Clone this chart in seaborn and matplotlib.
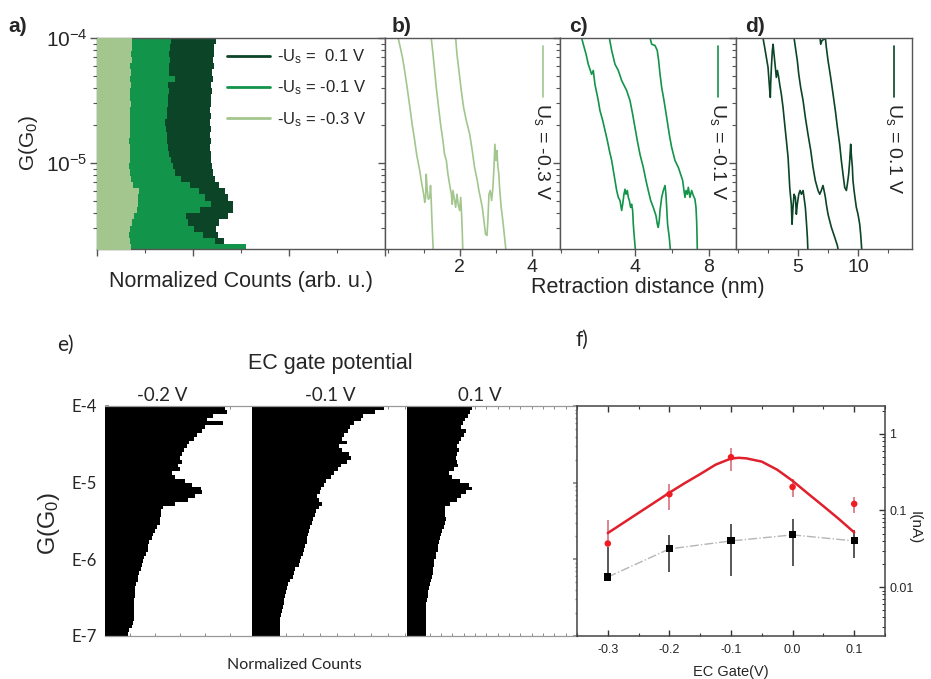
import numpy as np
import matplotlib
matplotlib.use("Agg")
import matplotlib.pyplot as plt
from matplotlib.lines import Line2D
from matplotlib.ticker import LogLocator, NullFormatter, MultipleLocator, FixedLocator
import seaborn as sns

# ---------------- panel a: conductance histograms (bins of 0.05 decade, log10 G from -4.0 down to -5.7)
hist_a_top, hist_a_bottom = -4.0, -5.7
counts_m03 = [0.73, 0.72, 0.70, 0.72, 0.69, 0.71, 0.69, 0.70, 0.69, 0.68, 0.70, 0.69, 0.68, 0.69, 0.68, 0.69, 0.67,
              0.69, 0.68, 0.69, 0.67, 0.69, 0.70, 0.76, 0.87, 0.85, 0.85, 0.84, 0.78, 0.73, 0.68, 0.66, 0.69, 0.71]
counts_m01 = [1.55, 1.52, 1.51, 1.53, 1.49, 1.51, 1.62, 1.48, 1.49, 1.47, 1.48, 1.45, 1.46, 1.42, 1.44, 1.46, 1.45,
              1.48, 1.51, 1.54, 1.58, 1.63, 1.76, 1.94, 2.12, 2.26, 2.38, 2.15, 1.85, 1.90, 2.03, 2.20, 2.45, 3.10]
counts_p01 = [2.48, 2.44, 2.43, 2.42, 2.43, 2.40, 2.41, 2.38, 2.40, 2.37, 2.38, 2.36, 2.37, 2.35, 2.37, 2.35, 2.37,
              2.36, 2.37, 2.37, 2.40, 2.41, 2.45, 2.55, 2.66, 2.73, 2.83, 2.83, 2.73, 2.55, 2.48, 2.52, 2.64, 2.80]
legend_a = ["-U$_\\mathrm{s}$ =  0.1 V", "-U$_\\mathrm{s}$ = -0.1 V", "-U$_\\mathrm{s}$ = -0.3 V"]

# ---------------- panels b-d: single retraction traces (distance in nm, log10 G)
b1_x = [0.29, 0.35, 0.41, 0.47, 0.54, 0.61, 0.68, 0.75, 0.81, 0.89, 0.95, 1.00, 1.03, 1.055, 1.07, 1.10, 1.13, 1.17,
        1.19, 1.21, 1.23, 1.25, 1.27]
b1_lg = [-4.0, -4.075, -4.155, -4.26, -4.395, -4.54, -4.69, -4.82, -4.94, -5.06, -5.17, -5.25, -5.315, -5.275, -5.09,
         -5.22, -5.29, -5.275, -5.18, -5.30, -5.46, -5.595, -5.72]
b2_x = [1.21, 1.26, 1.305, 1.35, 1.415, 1.47, 1.535, 1.58, 1.63, 1.675, 1.72, 1.77, 1.795, 1.815, 1.86, 1.89, 1.925,
        1.96, 2.0, 2.03, 2.055, 2.075, 2.09]
b2_lg = [-4.0, -4.13, -4.26, -4.395, -4.555, -4.69, -4.82, -4.93, -4.98, -5.09, -5.17, -5.25, -5.33, -5.22, -5.30,
         -5.355, -5.25, -5.33, -5.38, -5.275, -5.41, -5.57, -5.72]
b3_x = [1.89, 1.925, 1.98, 2.045, 2.11, 2.185, 2.28, 2.35, 2.415, 2.49, 2.535, 2.575, 2.63, 2.675, 2.72, 2.76, 2.785,
        2.815, 2.85, 2.89, 2.925, 2.955, 2.98, 3.01, 3.035, 3.065, 3.09, 3.11, 3.155, 3.2, 3.25, 3.295]
b3_lg = [-4.0, -4.13, -4.26, -4.42, -4.555, -4.66, -4.77, -4.90, -5.035, -5.14, -5.22, -5.275, -5.355, -5.46, -5.57,
         -5.58, -5.46, -5.25, -5.22, -5.30, -5.195, -5.035, -4.85, -4.98, -4.90, -5.035, -5.09, -5.195, -5.355, -5.46,
         -5.595, -5.72]

c1_x = [1.13, 1.22, 1.37, 1.49, 1.67, 1.76, 1.85, 1.94, 2.03, 2.12, 2.27, 2.395, 2.52, 2.63, 2.755, 2.845, 2.935, 3.025,
        3.115, 3.205, 3.295, 3.35, 3.42, 3.475, 3.53, 3.60, 3.655, 3.71, 3.78, 3.835, 3.89, 3.925, 3.98, 4.05]
c1_lg = [-4.0, -4.05, -4.13, -4.21, -4.29, -4.26, -4.37, -4.435, -4.50, -4.58, -4.66, -4.74, -4.82, -4.90, -4.98, -5.06,
         -5.14, -5.22, -5.275, -5.30, -5.38, -5.33, -5.25, -5.21, -5.25, -5.22, -5.275, -5.30, -5.355, -5.33, -5.38,
         -5.49, -5.595, -5.72]
c2_x = [2.63, 2.755, 2.935, 3.115, 3.295, 3.565, 3.745, 3.89, 4.015, 4.14, 4.285, 4.465, 4.61, 4.735, 4.865, 5.005,
        5.15, 5.225, 5.275, 5.33, 5.37, 5.46, 5.55, 5.64, 5.69, 5.73, 5.78, 5.87, 5.945]
c2_lg = [-4.0, -4.10, -4.21, -4.26, -4.34, -4.42, -4.50, -4.61, -4.715, -4.82, -4.93, -5.035, -5.14, -5.22, -5.30,
         -5.355, -5.42, -5.49, -5.515, -5.46, -5.38, -5.275, -5.22, -5.18, -5.25, -5.355, -5.49, -5.595, -5.72]
c3_x = [4.83, 4.92, 5.10, 5.22, 5.295, 5.37, 5.46, 5.585, 5.73, 5.87, 6.0, 6.18, 6.36, 6.485, 6.595, 6.665, 6.72, 6.775,
        6.845, 6.90, 6.99, 7.08, 7.17, 7.26, 7.315, 7.35, 7.37, 7.39]
c3_lg = [-4.0, -4.05, -4.06, -4.10, -4.18, -4.29, -4.395, -4.50, -4.635, -4.77, -4.875, -4.98, -5.035, -5.09, -5.14,
         -5.22, -5.275, -5.22, -5.25, -5.195, -5.275, -5.22, -5.26, -5.29, -5.355, -5.46, -5.57, -5.72]

d1_x = [2.08, 2.22, 2.36, 2.5, 2.58, 2.64, 2.69, 2.72, 2.78, 2.86, 2.92, 3.0, 3.11, 3.19, 3.28, 3.39, 3.47, 3.61, 3.75,
        3.89, 4.03, 4.17, 4.25, 4.31, 4.36, 4.44, 4.5, 4.58, 4.67, 4.78, 4.86, 4.94, 5.06, 5.17, 5.28, 5.42, 5.5, 5.61,
        5.69, 5.78, 5.83]
d1_lg = [-4.0, -4.075, -4.155, -4.235, -4.34, -4.42, -4.475, -4.37, -4.235, -4.10, -4.05, -4.13, -4.235, -4.315, -4.26,
         -4.315, -4.37, -4.45, -4.555, -4.69, -4.82, -4.955, -5.09, -5.195, -5.25, -5.33, -5.49, -5.355, -5.25, -5.275,
         -5.41, -5.33, -5.25, -5.22, -5.25, -5.22, -5.275, -5.355, -5.46, -5.595, -5.72]
d2_x = [4.67, 4.78, 4.94, 5.06, 5.22, 5.42, 5.61, 5.83, 6.06, 6.25, 6.44, 6.67, 6.81, 6.94, 7.08, 7.17, 7.28, 7.36,
        7.5, 7.78, 8.06, 8.28, 8.39]
d2_lg = [-4.0, -4.075, -4.18, -4.29, -4.395, -4.50, -4.635, -4.77, -4.90, -5.035, -5.14, -5.22, -5.25, -5.22, -5.18,
         -5.22, -5.275, -5.33, -5.41, -5.515, -5.595, -5.66, -5.72]
d3_x = [6.81, 6.89, 7.0, 7.17, 7.28, 7.36, 7.5, 7.72, 7.92, 8.11, 8.28, 8.47, 8.61, 8.75, 8.89, 9.03, 9.11, 9.22, 9.31,
        9.39, 9.44, 9.53, 9.58, 9.67, 9.78, 9.86, 10.0, 10.14, 10.22, 10.28, 10.33]
d3_lg = [-3.98, -4.05, -4.02, -4.01, -4.0, -4.075, -4.18, -4.315, -4.45, -4.58, -4.715, -4.85, -4.98, -5.09, -5.195,
         -5.22, -5.17, -5.09, -4.98, -4.85, -4.93, -5.035, -5.14, -5.22, -5.30, -5.355, -5.41, -5.49, -5.57, -5.65,
         -5.72]
trace_labels = ["U$_\\mathrm{s}$ = -0.3 V", "U$_\\mathrm{s}$ = -0.1 V", "U$_\\mathrm{s}$ = 0.1 V"]

# ---------------- panel e: EC-gated histograms (bins of 0.05 decade, log10 G from -4 to -7)
hist_e_top, hist_e_bottom = -4.0, -7.0
gate_titles = ["-0.2 V", "-0.1 V", "0.1 V"]
counts_e_m02 = [4.8, 4.87, 4.33, 4.07, 4.73, 4.0, 3.87, 3.67, 3.57, 3.36, 3.27, 3.17, 3.09, 3.01, 3.07, 2.93, 3.0, 2.67,
                2.8, 3.2, 3.47, 3.84, 3.87, 3.6, 3.33, 2.8, 2.33, 2.24, 2.23, 2.21, 2.19, 2.07, 2.0, 1.93, 1.87, 1.77,
                1.73, 1.71, 1.63, 1.57, 1.53, 1.47, 1.44, 1.36, 1.33, 1.31, 1.23, 1.2, 1.2, 1.19, 1.17, 1.17, 1.17,
                1.17, 1.16, 1.15, 1.12, 1.07, 0.96, 0.91]
counts_e_m01 = [7.75, 7.25, 6.53, 6.37, 5.98, 5.75, 5.63, 5.43, 5.31, 5.55, 5.12, 5.31, 5.69, 5.82, 5.55, 5.24, 5.02,
                4.8, 4.61, 4.35, 4.22, 4.08, 3.98, 3.84, 3.94, 4.12, 3.94, 3.75, 3.67, 3.59, 3.53, 3.43, 3.35, 3.29,
                3.25, 3.22, 3.12, 3.04, 2.98, 2.88, 2.84, 2.75, 2.55, 2.45, 2.39, 2.22, 2.12, 2.06, 2.02, 1.96, 1.9,
                1.86, 1.82, 1.76, 1.71, 1.67, 1.65, 1.63, 1.63, 1.63]
counts_e_p01 = [5.74, 5.53, 5.35, 5.15, 4.94, 4.76, 5.24, 5.06, 4.76, 4.59, 4.41, 4.59, 4.41, 4.29, 4.41, 4.53, 4.18,
                3.68, 3.97, 4.65, 5.44, 5.76, 5.24, 4.76, 4.41, 3.76, 3.38, 3.32, 3.38, 3.41, 3.38, 3.24, 3.09, 2.97,
                2.88, 2.79, 2.74, 2.71, 2.59, 2.53, 2.41, 2.35, 2.29, 2.26, 2.24, 2.15, 2.06, 1.94, 1.88, 1.82, 1.76,
                1.71, 1.71, 1.71, 1.71, 1.71, 1.71, 1.71, 1.71, 1.71]
e_tick_labels = ["E-4", "E-5", "E-6", "E-7"]

# ---------------- panel f: current vs EC gate
gate_v = [-0.3, -0.2, -0.1, 0.0, 0.1]
gate_labels = ["-0.3", "-0.2", "-0.1", "0.0", "0.1"]
i_red = [0.037, 0.163, 0.497, 0.203, 0.122]
i_red_err_lo = [0.0, 0.06, 0.165, 0.054, 0.029]
i_red_err_hi = [0.039, 0.06, 0.165, 0.054, 0.029]
i_black = [0.0135, 0.0315, 0.040, 0.048, 0.040]
i_black_err_lo = [0.0, 0.016, 0.026, 0.029, 0.016]
i_black_err_hi = [0.020, 0.016, 0.026, 0.029, 0.016]
fit_v = [-0.3, -0.275, -0.25, -0.225, -0.2, -0.175, -0.15, -0.125, -0.1, -0.0875, -0.075, -0.05, -0.025, 0.0, 0.025,
         0.05, 0.075, 0.1]
fit_i = [0.0507, 0.0687, 0.0931, 0.126, 0.171, 0.228, 0.299, 0.397, 0.478, 0.488, 0.48, 0.435, 0.341, 0.244, 0.166,
         0.114, 0.0776, 0.0517]

# ---------------- style
sns.set_theme(style="ticks")
plt.rcParams["font.family"] = ["Liberation Sans", "DejaVu Sans"]
plt.rcParams["mathtext.fontset"] = "custom"
plt.rcParams["mathtext.rm"] = "Liberation Sans"
plt.rcParams["mathtext.it"] = "Liberation Sans:italic"
plt.rcParams["mathtext.bf"] = "Liberation Sans:bold"
plt.rcParams["axes.unicode_minus"] = False

LIGHT = "#a3c68e"
MEDIUM = "#12944a"
DARK = "#0c4428"
SPINE = "#555555"
CAL = ["Lato", "DejaVu Sans"]

W, H = 931, 679
fig = plt.figure(figsize=(W / 100, H / 100), dpi=100)


def rect(x0, x1, y0, y1):
    return [x0 / W, 1 - y1 / H, (x1 - x0) / W, (y1 - y0) / H]


def step_fill(ax, top, bottom, vals, color, z):
    edges = np.linspace(top, bottom, len(vals) + 1)
    y = 10.0 ** np.repeat(edges, 2)[1:-1]
    x = np.repeat(np.asarray(vals, float), 2)
    ax.fill_betweenx(y, 0, x, color=color, lw=0, zorder=z)


def style_spines(ax, color=SPINE, lw=1.0):
    for s in ax.spines.values():
        s.set_color(color)
        s.set_linewidth(lw)


ylo_top = 10 ** -5.688

# ---- panel a
ax_a = fig.add_axes(rect(97, 385, 38, 249))
step_fill(ax_a, hist_a_top, hist_a_bottom, counts_p01, DARK, 1)
step_fill(ax_a, hist_a_top, hist_a_bottom, counts_m01, MEDIUM, 2)
step_fill(ax_a, hist_a_top, hist_a_bottom, counts_m03, LIGHT, 3)
ax_a.set_yscale("log")
ax_a.set_ylim(ylo_top, 1e-4)
ax_a.set_xlim(0, 6)
ax_a.set_yticks([1e-5, 1e-4])
ax_a.set_yticklabels(["$10^{-5}$", "$10^{-4}$"], fontsize=15)
ax_a.yaxis.set_minor_locator(LogLocator(base=10, subs=np.arange(2, 10)))
ax_a.yaxis.set_minor_formatter(NullFormatter())
ax_a.xaxis.set_major_locator(MultipleLocator(2))
ax_a.xaxis.set_minor_locator(MultipleLocator(1))
ax_a.set_xticklabels([])
ax_a.tick_params(which="major", direction="out", length=5, width=1, color=SPINE, pad=2)
ax_a.tick_params(which="minor", direction="out", length=3, width=0.8, color=SPINE)
ax_a.set_xlabel("Normalized Counts (arb. u.)", fontsize=15.5, labelpad=9)
ax_a.set_ylabel("G(G$_0$)", fontsize=15, labelpad=4)
style_spines(ax_a)
handles = [Line2D([0], [0], color=c, lw=2) for c in (DARK, MEDIUM, LIGHT)]
ax_a.legend(handles, legend_a, loc="upper left", bbox_to_anchor=(0.45, 0.955), frameon=False, fontsize=12,
            handlelength=2.6, labelspacing=0.75, handletextpad=0.4, borderaxespad=0, borderpad=0)

# ---- panels b, c, d
trace_sets = [
    ((385, 560), (-0.075, 4.79), LIGHT, [(b1_x, b1_lg), (b2_x, b2_lg), (b3_x, b3_lg)], 1, ["2", "4"], [2, 4]),
    ((560, 736), (-0.04, 9.48), MEDIUM, [(c1_x, c1_lg), (c2_x, c2_lg), (c3_x, c3_lg)], 2, ["4", "8"], [4, 8]),
    ((736, 912), (-0.17, 14.5), DARK, [(d1_x, d1_lg), (d2_x, d2_lg), (d3_x, d3_lg)], 2.5, ["5", "10"], [5, 10]),
]
trace_axes = []
for k, ((x0, x1), xl, col, traces, minor, tl, tv) in enumerate(trace_sets):
    ax = fig.add_axes(rect(x0, x1, 38, 249))
    for tx, tlg in traces:
        sns.lineplot(x=tx, y=10.0 ** np.asarray(tlg), ax=ax, color=col, lw=1.2, sort=False, estimator=None)
    ax.set_yscale("log")
    ax.set_ylim(ylo_top, 1e-4)
    ax.set_xlim(*xl)
    ax.set_yticks([1e-5, 1e-4])
    ax.set_yticklabels([])
    ax.yaxis.set_minor_locator(LogLocator(base=10, subs=np.arange(2, 10)))
    ax.yaxis.set_minor_formatter(NullFormatter())
    ax.xaxis.set_major_locator(FixedLocator(tv))
    ax.set_xticklabels(tl, fontsize=14)
    ax.xaxis.set_minor_locator(MultipleLocator(minor))
    ax.tick_params(which="major", direction="out", length=5, width=1, color=SPINE, pad=2)
    ax.tick_params(which="minor", direction="out", length=3, width=0.8, color=SPINE)
    ax.set_xlabel("")
    ax.set_ylabel("")
    style_spines(ax)
    ax.plot([0.9, 0.9], [0.962, 0.72], color=col, lw=1.2, transform=ax.transAxes)
    ax.text(0.9, 0.69, trace_labels[k], rotation=-90, ha="center", va="top", fontsize=14,
            transform=ax.transAxes)
    trace_axes.append(ax)
trace_axes[1].set_xlabel("Retraction distance (nm)", fontsize=15.5, labelpad=1)

for lab, x in zip(["a)", "b)", "c)", "d)"], [8, 392, 569, 745]):
    fig.text(x / W, 1 - 27 / H, lab, fontsize=15, fontweight="bold", ha="left", va="center")

# ---- panel e
e_specs = [((105, 252), 5.88, counts_e_m02, 162), ((252, 407), 9.1, counts_e_m01, 330),
           ((407, 577), 15.0, counts_e_p01, 480)]
e_axes = []
for (x0, x1), xmax, vals, tx in e_specs:
    ax = fig.add_axes(rect(x0, x1, 406, 636))
    step_fill(ax, hist_e_top, hist_e_bottom, vals, "black", 1)
    ax.set_yscale("log")
    ax.set_ylim(1e-7, 1e-4)
    ax.set_xlim(0, xmax)
    ax.xaxis.set_major_locator(MultipleLocator(1))
    ax.set_xticklabels([])
    ax.set_yticks([1e-4, 1e-5, 1e-6, 1e-7])
    ax.yaxis.set_minor_locator(LogLocator(base=10, subs=np.arange(2, 10)))
    ax.yaxis.set_minor_formatter(NullFormatter())
    ax.tick_params(axis="x", which="both", direction="in", top=True, bottom=True, length=2.5, width=0.7,
                   color="#888888")
    ax.tick_params(axis="y", which="both", direction="in", left=False, right=False, labelleft=False)
    style_spines(ax, "#999999", 0.9)
    ax.spines["left"].set_visible(False)
    ax.spines["right"].set_visible(False)
    fig.text(tx / W, 1 - 395 / H, gate_titles[len(e_axes)], fontsize=13.5, family=CAL, ha="center",
             va="center")
    e_axes.append(ax)
e_axes[0].tick_params(axis="y", which="major", left=True, labelleft=True, direction="in", length=3, pad=6,
                      color="#888888")
e_axes[0].set_yticklabels(e_tick_labels, fontsize=12, family=CAL)
e_axes[0].set_ylabel("G(G$_0$)", fontsize=17)
e_axes[0].yaxis.set_label_coords(-0.29, 0.49)
e_axes[2].spines["right"].set_visible(True)
e_axes[2].tick_params(axis="y", which="major", right=True, direction="in", length=3, color="#888888")
e_axes[2].tick_params(axis="y", which="minor", right=True, direction="in", length=1.5, color="#888888")
fig.text(330 / W, 1 - 363 / H, "EC gate potential", fontsize=15.5, ha="center", va="center")
fig.text(294 / W, 1 - 665 / H, "Normalized Counts", fontsize=11.5, family=CAL, ha="center", va="center")
fig.text(57 / W, 1 - 345 / H, "e)", fontsize=15, family=CAL, ha="left", va="center")
fig.text(575 / W, 1 - 340 / H, "f)", fontsize=15, family=CAL, ha="left", va="center")

# ---- panel f
ax_f = fig.add_axes(rect(577, 885, 406, 636))
ax_f.errorbar(gate_v, i_red, yerr=[i_red_err_lo, i_red_err_hi], fmt="none", ecolor="#d9707c", elinewidth=1.2,
              capsize=0, zorder=2)
ax_f.errorbar(gate_v, i_black, yerr=[i_black_err_lo, i_black_err_hi], fmt="none", ecolor="#2a2a2a",
              elinewidth=1.1, capsize=0, zorder=3)
sns.lineplot(x=gate_v, y=i_black, ax=ax_f, color="#b5b5b5", lw=1.0, ls="-.", sort=False, estimator=None,
             zorder=2)
sns.lineplot(x=fit_v, y=fit_i, ax=ax_f, color="#e0202c", lw=1.8, sort=False, estimator=None, zorder=4)
sns.scatterplot(x=gate_v, y=i_red, ax=ax_f, color="#f01c24", marker="o", s=22, edgecolor="none", zorder=5)
sns.scatterplot(x=gate_v, y=i_black, ax=ax_f, color="black", marker="s", s=26, edgecolor="none", zorder=5)
ax_f.set_yscale("log")
ax_f.set_ylim(0.00229, 2.32)
ax_f.set_xlim(-0.35, 0.15)
ax_f.set_xticks(gate_v)
ax_f.set_xticklabels(gate_labels, fontsize=9)
ax_f.xaxis.set_minor_locator(MultipleLocator(0.05))
ax_f.yaxis.tick_right()
ax_f.yaxis.set_label_position("right")
ax_f.set_yticks([0.01, 0.1, 1])
ax_f.set_yticklabels(["0.01", "0.1", "1"], fontsize=9)
ax_f.yaxis.set_minor_locator(LogLocator(base=10, subs=np.arange(2, 10)))
ax_f.yaxis.set_minor_formatter(NullFormatter())
ax_f.tick_params(axis="x", which="both", direction="in", top=True, bottom=True, color="#333333")
ax_f.tick_params(axis="x", which="major", length=4, width=1, pad=6)
ax_f.tick_params(axis="x", which="minor", length=2.5, width=0.8)
ax_f.tick_params(axis="y", which="both", direction="in", left=False, right=True, color="#333333")
ax_f.tick_params(axis="y", which="major", length=4, width=1, pad=3)
ax_f.tick_params(axis="y", which="minor", length=2, width=0.7)
ax_f.set_xlabel("EC Gate(V)", fontsize=10.5, labelpad=6)
ax_f.set_ylabel("I(nA)", fontsize=11, rotation=270, labelpad=5)
ax_f.yaxis.set_label_coords(1.12, 0.47)
style_spines(ax_f, "#444444", 1.1)

fig.savefig("out.png", dpi=100)
